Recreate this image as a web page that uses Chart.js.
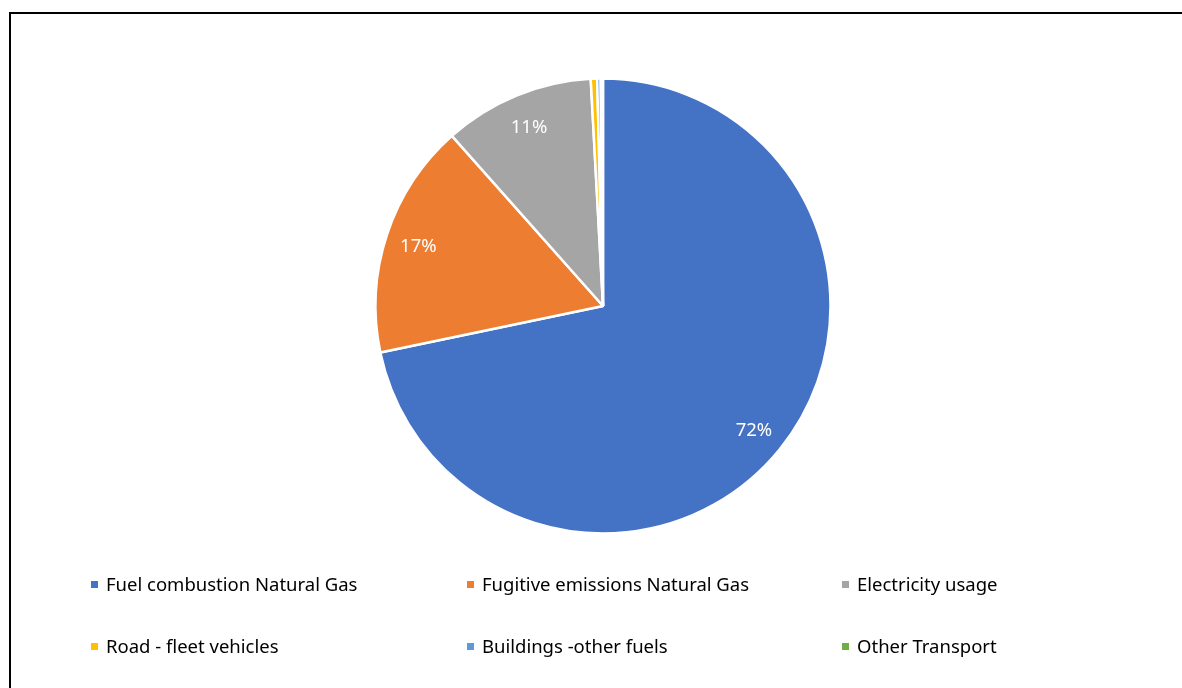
<!DOCTYPE html>
<html>
<head>
<meta charset="utf-8">
<title>Emissions by source</title>
<script src="https://cdn.jsdelivr.net/npm/chart.js@4.4.1/dist/chart.umd.min.js"></script>
<style>
  html, body { margin: 0; padding: 0; background: #fff; }
  #wrap { position: relative; width: 1182px; height: 688px; overflow: hidden; }
  #frame { position: absolute; left: 9px; top: 12px; width: 1200px; height: 700px; border: 2px solid #000; box-sizing: border-box; }
  #box { position: absolute; left: 0; top: 0; width: 1182px; height: 612px; }
  #legend { position: absolute; left: 0; top: 0; width: 1182px; height: 688px; font-family: "Noto Sans", Lato, sans-serif; font-size: 18.5px; color: #000; }
  .item { position: absolute; white-space: nowrap; line-height: 20px; }
  .item i { position: absolute; left: -15px; top: 7px; width: 7px; height: 7px; }
</style>
</head>
<body>
<div id="wrap">
  <div id="frame"></div>
  <div id="box"><canvas id="pie"></canvas></div>
  <div id="legend"></div>
</div>
<script>
let sources = [
  "Fuel combustion Natural Gas",
  "Fugitive emissions Natural Gas",
  "Electricity usage",
  "Road - fleet vehicles",
  "Buildings -other fuels",
  "Other Transport"
];
let shares = [71.72, 16.72, 10.70, 0.45, 0.25, 0.16];
let colors = ["#4472c4", "#ed7d31", "#a5a5a5", "#ffc000", "#5b9bd5", "#70ad47"];

// legend grid: three columns, two rows
let legendCols = [106, 482, 857];
let legendRows = [574, 636];

let legendEl = document.getElementById("legend");
sources.forEach((name, i) => {
  let el = document.createElement("div");
  el.className = "item";
  el.style.left = legendCols[i % 3] + "px";
  el.style.top = legendRows[Math.floor(i / 3)] + "px";
  el.innerHTML = '<i style="background:' + colors[i] + '"></i>' + name;
  legendEl.appendChild(el);
});

// percentage labels near the outer edge of each slice
let pctLabels = {
  id: "pctLabels",
  afterDatasetsDraw(chart) {
    let ctx = chart.ctx;
    let meta = chart.getDatasetMeta(0);
    let data = chart.data.datasets[0].data;
    let total = data.reduce((a, b) => a + b, 0);
    ctx.save();
    ctx.fillStyle = "#fff";
    ctx.font = "18.5px 'Noto Sans', Lato, sans-serif";
    ctx.textAlign = "center";
    ctx.textBaseline = "middle";
    meta.data.forEach((arc, i) => {
      let pct = Math.round(data[i] / total * 100);
      if (pct < 1) return;
      let mid = (arc.startAngle + arc.endAngle) / 2;
      let r = arc.outerRadius * 0.855;
      ctx.fillText(pct + "%", arc.x + Math.cos(mid) * r, arc.y + Math.sin(mid) * r + 2);
    });
    ctx.restore();
  }
};

new Chart(document.getElementById("pie"), {
  type: "pie",
  data: {
    labels: sources,
    datasets: [{
      data: shares,
      backgroundColor: colors,
      borderColor: "#fff",
      borderWidth: 2.5
    }]
  },
  options: {
    responsive: true,
    maintainAspectRatio: false,
    animation: false,
    radius: 227.5,
    layout: { padding: { left: 24 } },
    plugins: {
      legend: { display: false },
      tooltip: { enabled: false }
    }
  },
  plugins: [pctLabels]
});
</script>
</body>
</html>
